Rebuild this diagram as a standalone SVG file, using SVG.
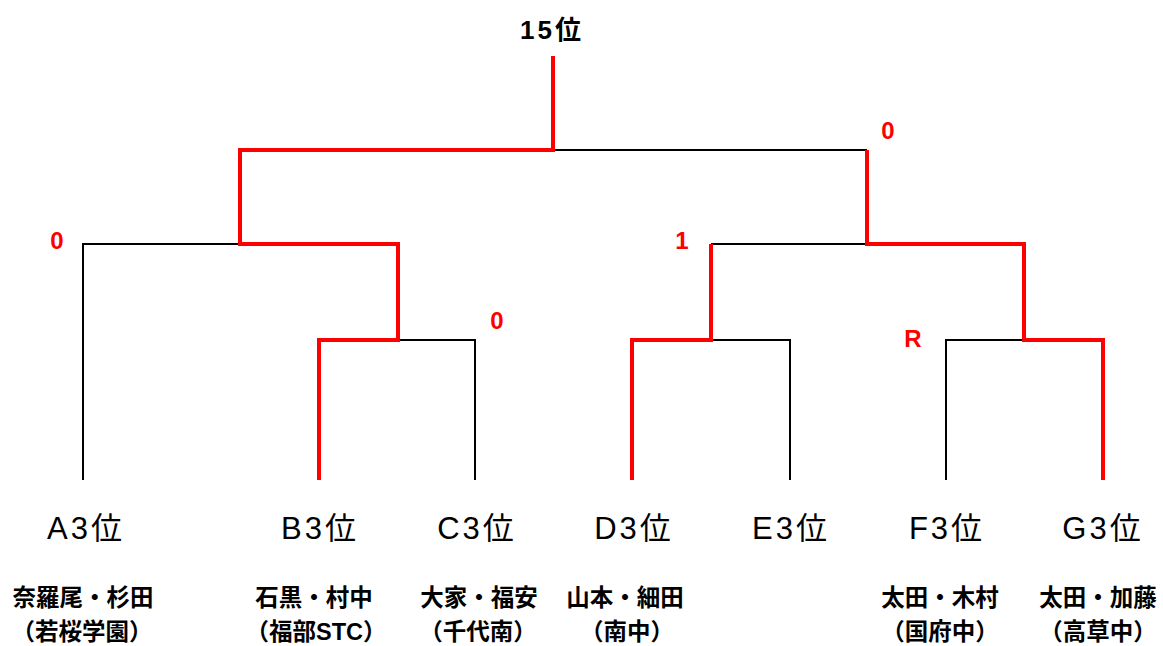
<svg xmlns="http://www.w3.org/2000/svg" width="1163" height="646" viewBox="0 0 1163 646">
<style>
text{font-family:"Liberation Sans","Noto Sans CJK JP",sans-serif;text-anchor:middle}
.seed{font-size:31px;fill:#000;letter-spacing:3px}
.name{font-size:23.5px;font-weight:bold;fill:#000}
.title{font-size:26px;font-weight:bold;fill:#000;letter-spacing:3px}
.score{font-size:24px;font-weight:bold;fill:#ff0000}
.b{stroke:#000;stroke-width:2;fill:none}
.r{stroke:#ff0000;stroke-width:4;fill:none}
</style>
<rect width="1163" height="646" fill="#fff"/>
<g id="connectors">
<path class="b" d="M553 150H867"/>
<path class="b" d="M83 480V244H240"/>
<path class="b" d="M398 340H475V480"/>
<path class="b" d="M711 244H867"/>
<path class="b" d="M711 340H790V480"/>
<path class="b" d="M946 480V340H1024"/>
<path class="r" d="M553 56V150H240V244H398V340H319V480"/>
<path class="r" d="M867 150V244H1024V340H1103V480"/>
<path class="r" d="M711 244V340H632V480"/>
</g>
<g id="title"><text class="title" x="552" y="39">15位</text></g>
<g id="scores">
<text class="score" x="57" y="249">0</text>
<text class="score" x="497" y="329">0</text>
<text class="score" x="682" y="249">1</text>
<text class="score" x="913" y="347">R</text>
<text class="score" x="888" y="139">0</text>
</g>
<g id="nodeA"><text class="seed" x="86" y="539">A3位</text><text class="name" x="83" y="606">奈羅尾・杉田</text><text class="name" x="82" y="640">（若桜学園）</text></g>
<g id="nodeB"><text class="seed" x="320" y="539">B3位</text><text class="name" x="314" y="606">石黒・村中</text><text class="name" x="316" y="640">（福部STC）</text></g>
<g id="nodeC"><text class="seed" x="477" y="539">C3位</text><text class="name" x="479" y="606">大家・福安</text><text class="name" x="478" y="640">（千代南）</text></g>
<g id="nodeD"><text class="seed" x="634" y="539">D3位</text><text class="name" x="625" y="606">山本・細田</text><text class="name" x="627" y="640">（南中）</text></g>
<g id="nodeE"><text class="seed" x="791" y="539">E3位</text></g>
<g id="nodeF"><text class="seed" x="947" y="539">F3位</text><text class="name" x="940" y="606">太田・木村</text><text class="name" x="940" y="640">（国府中）</text></g>
<g id="nodeG"><text class="seed" x="1103" y="539">G3位</text><text class="name" x="1098" y="606">太田・加藤</text><text class="name" x="1098" y="640">（高草中）</text></g>
</svg>
